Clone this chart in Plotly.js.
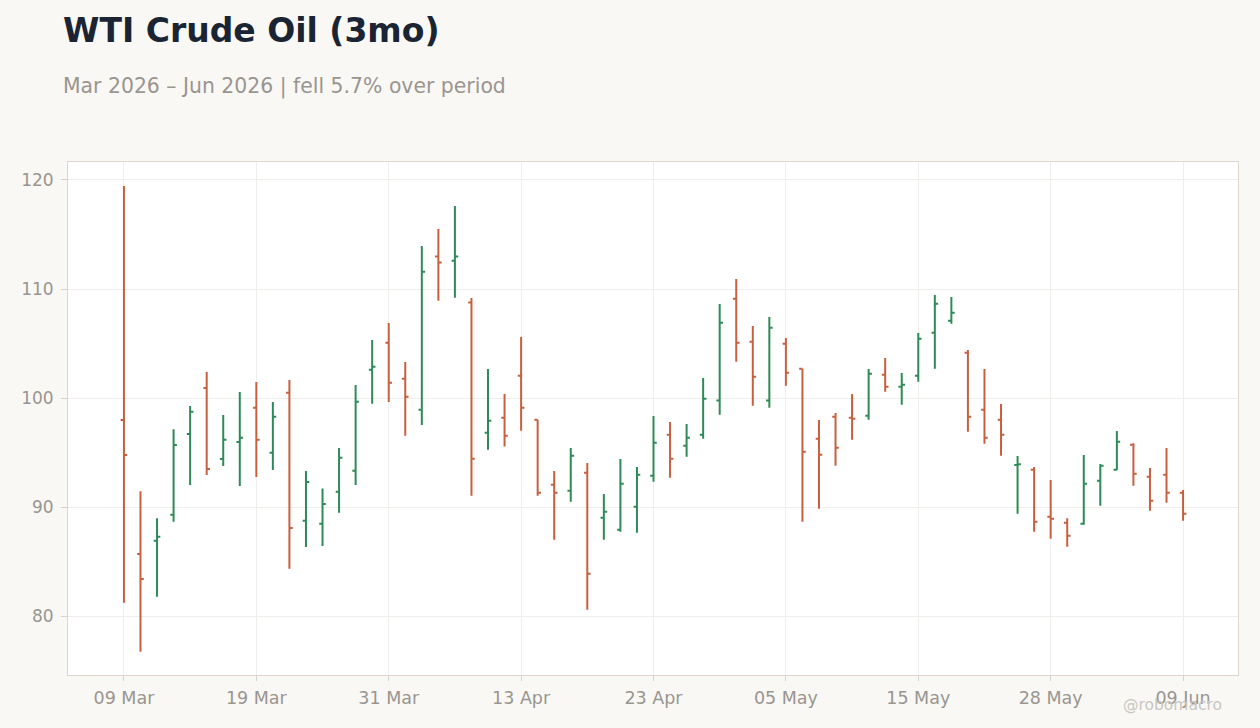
<!DOCTYPE html>
<html>
<head>
<meta charset="utf-8">
<script src="https://cdn.plot.ly/plotly-3.0.1.min.js"></script>
<style>
  html, body { margin: 0; padding: 0; background: #f9f8f5; }
  #chart { width: 1260px; height: 728px; }
</style>
</head>
<body>
<div id="chart"></div>
<script>
// Trading days (holidays Apr 3 and May 25 excluded)
const dates = [
  "2026-03-09","2026-03-10","2026-03-11","2026-03-12","2026-03-13",
  "2026-03-16","2026-03-17","2026-03-18","2026-03-19","2026-03-20",
  "2026-03-23","2026-03-24","2026-03-25","2026-03-26","2026-03-27",
  "2026-03-30","2026-03-31","2026-04-01","2026-04-02","2026-04-06",
  "2026-04-07","2026-04-08","2026-04-09","2026-04-10","2026-04-13",
  "2026-04-14","2026-04-15","2026-04-16","2026-04-17","2026-04-20",
  "2026-04-21","2026-04-22","2026-04-23","2026-04-24","2026-04-27",
  "2026-04-28","2026-04-29","2026-04-30","2026-05-01","2026-05-04",
  "2026-05-05","2026-05-06","2026-05-07","2026-05-08","2026-05-11",
  "2026-05-12","2026-05-13","2026-05-14","2026-05-15","2026-05-18",
  "2026-05-19","2026-05-20","2026-05-21","2026-05-22","2026-05-26",
  "2026-05-27","2026-05-28","2026-05-29","2026-06-01","2026-06-02",
  "2026-06-03","2026-06-04","2026-06-05","2026-06-08","2026-06-09"
];

const openVals = [
  97.98, 85.69, 86.91, 89.30, 96.70, 100.92, 94.40, 95.96, 99.11, 94.98,
  100.49, 88.75, 88.47, 91.41, 93.33, 102.60, 105.08, 101.77, 98.93, 112.97,
  112.60, 108.75, 96.82, 98.20, 102.05, 98.01, 92.05, 91.50, 93.15, 89.02,
  87.92, 90.03, 92.87, 96.64, 95.63, 96.64, 99.76, 109.11, 105.17, 99.76,
  104.98, 102.69, 96.27, 98.29, 98.20, 98.38, 102.14, 101.04, 102.05, 105.99,
  107.09, 104.16, 98.93, 98.01, 93.86, 93.43, 89.11, 88.56, 88.47, 92.42,
  93.43, 95.72, 92.78, 92.97, 91.31
];
const highVals = [
  119.45, 91.44, 88.96, 97.13, 99.27, 102.39, 98.44, 100.55, 101.47, 99.63,
  101.65, 93.30, 91.71, 95.41, 101.19, 105.32, 106.88, 103.30, 113.94, 115.50,
  117.61, 109.17, 102.66, 100.37, 105.60, 98.01, 93.30, 95.41, 94.04, 91.19,
  94.40, 93.67, 98.35, 97.80, 97.61, 101.83, 108.62, 110.92, 106.61, 107.43,
  105.50, 102.69, 97.98, 98.62, 100.37, 102.66, 103.67, 102.29, 105.96, 109.45,
  109.27, 104.40, 102.66, 99.45, 94.68, 93.67, 92.48, 88.96, 94.77, 93.94,
  96.97, 95.84, 93.58, 95.41, 91.56
];
const lowVals = [
  81.22, 76.73, 81.77, 88.65, 92.02, 92.94, 93.76, 91.93, 92.75, 93.39,
  84.34, 86.33, 86.42, 89.48, 92.02, 99.48, 99.63, 96.54, 97.52, 108.93,
  109.20, 91.04, 95.26, 95.54, 97.00, 91.04, 87.00, 90.49, 80.58, 87.00,
  87.74, 87.65, 92.32, 92.69, 94.62, 96.27, 98.47, 103.33, 99.30, 99.11,
  101.13, 88.65, 89.85, 93.79, 96.18, 98.01, 100.58, 99.39, 101.50, 102.69,
  106.82, 96.91, 95.81, 94.71, 89.39, 87.74, 87.10, 86.36, 88.38, 90.12,
  93.39, 91.96, 89.66, 90.40, 88.75
];
const closeVals = [
  94.77, 83.40, 87.28, 95.69, 98.75, 93.49, 96.18, 96.36, 96.18, 98.29,
  88.07, 92.29, 90.28, 94.53, 99.66, 102.87, 101.41, 100.12, 111.59, 112.42,
  112.97, 94.43, 97.92, 96.54, 99.11, 91.31, 91.31, 94.71, 83.88, 89.57,
  92.14, 92.97, 95.90, 94.43, 96.36, 99.94, 106.91, 105.08, 101.96, 106.45,
  102.32, 95.08, 94.80, 95.44, 98.10, 102.23, 101.04, 101.22, 105.44, 108.65,
  107.83, 98.29, 96.36, 96.64, 93.92, 88.65, 88.93, 87.37, 92.14, 93.79,
  95.99, 93.06, 90.58, 91.31, 89.39
];

const tickDates = ["2026-03-09","2026-03-19","2026-03-31","2026-04-13","2026-04-23",
                   "2026-05-05","2026-05-15","2026-05-28","2026-06-09"];
const tickLabels = ["09 Mar","19 Mar","31 Mar","13 Apr","23 Apr","05 May","15 May","28 May","09 Jun"];
const yTicks = [80, 90, 100, 110, 120];

const GREEN = "#2e8b57";
const RED = "#c8603f";
const TICKCOL = "#9a958f";
const FONT = "DejaVu Sans, sans-serif";

const trace = {
  type: "ohlc",
  x: dates,
  open: openVals,
  high: highVals,
  low: lowVals,
  close: closeVals,
  increasing: { line: { color: GREEN, width: 2 } },
  decreasing: { line: { color: RED, width: 2 } },
  tickwidth: 0.2,
  hoverinfo: "x+text",
  showlegend: false
};

const layout = {
  width: 1260,
  height: 728,
  paper_bgcolor: "#f9f8f5",
  plot_bgcolor: "#ffffff",
  font: { family: FONT, color: TICKCOL, size: 17 },
  margin: { l: 68, r: 22, t: 162, b: 53 },
  title: {
    text: "<b>WTI Crude Oil (3mo)</b>",
    font: { family: FONT, size: 33, color: "#1b2433" },
    xref: "container", x: 63 / 1260, xanchor: "left",
    yref: "container", y: 1 - 30 / 728, yanchor: "middle"
  },
  xaxis: {
    type: "category",
    range: [-3.38, 67.32],
    tickmode: "array",
    tickvals: tickDates,
    ticktext: tickLabels,
    tickfont: { family: FONT, size: 17.5, color: TICKCOL },
    ticks: "outside", ticklen: 5, tickcolor: "#d9d2c9",
    ticklabelstandoff: 2,
    showgrid: true, gridcolor: "#f0eeeb",
    showline: true, linecolor: "#ddd6cd", linewidth: 1, mirror: true,
    rangeslider: { visible: false },
    zeroline: false
  },
  yaxis: {
    range: [74.59, 121.65],
    tickmode: "array",
    tickvals: yTicks,
    tickfont: { family: FONT, size: 17, color: TICKCOL },
    ticks: "outside", ticklen: 6, tickcolor: "#d9d2c9",
    ticklabelstandoff: 4,
    showgrid: true, gridcolor: "#f0eeeb",
    showline: true, linecolor: "#ddd6cd", linewidth: 1, mirror: true,
    zeroline: false
  },
  annotations: [
    {
      text: "Mar 2026 \u2013 Jun 2026 | fell 5.7% over period",
      xref: "paper", yref: "paper",
      x: (61 - 68) / 1170, y: (675 - 86) / 513,
      xanchor: "left", yanchor: "middle",
      showarrow: false,
      font: { family: FONT, size: 20.4, color: "#9a958f" }
    },
    {
      text: "@robomacro",
      xref: "paper", yref: "paper",
      x: (1172 - 68) / 1170, y: (675 - 705) / 513,
      xanchor: "center", yanchor: "middle",
      showarrow: false,
      font: { family: FONT, size: 15.5, color: "#c9c6c1" }
    }
  ]
};

Plotly.newPlot("chart", [trace], layout, { displayModeBar: false, staticPlot: true });
</script>
</body>
</html>
